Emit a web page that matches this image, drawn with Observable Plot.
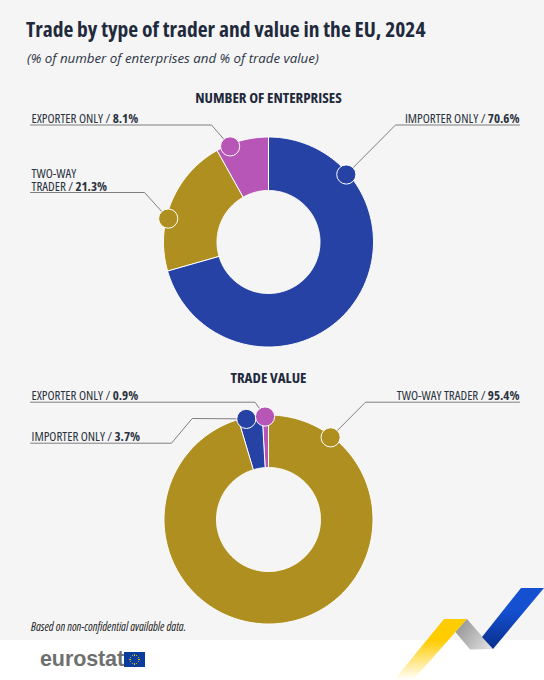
<!DOCTYPE html>
<html lang="en">
<head>
<meta charset="utf-8">
<script src="https://cdn.jsdelivr.net/npm/d3@7"></script>
<script src="https://cdn.jsdelivr.net/npm/@observablehq/plot@0.6"></script>
<style>
  html, body { margin: 0; padding: 0; background: #fff; }
  body { width: 544px; height: 680px; overflow: hidden; position: relative; font-family: "Open Sans", sans-serif; font-stretch: 75%; }
  #panel { position: absolute; left: 0; top: 0; width: 544px; height: 640px; background: #f5f5f5; }
  #head { height: 84px; position: relative; }
  #title { position: absolute; left: 26px; top: 14px; margin: 0; font-size: 21.5px; line-height: 30px; font-weight: 700; color: #1f2a3c; white-space: nowrap; }
  #subtitle { position: absolute; left: 27px; top: 48px; margin: 0; font-size: 13.3px; line-height: 20px; font-style: italic; font-stretch: 100%; color: #2b3445; white-space: nowrap; }
  #chart svg { display: block; }
  #chart text { font-family: "Open Sans", sans-serif; font-stretch: 75%; }
  #note { position: absolute; left: 31px; top: 619px; font-size: 11.7px; line-height: 14px; font-style: italic; color: #222; white-space: nowrap; }
  #logo { position: absolute; left: 40px; top: 646px; font-family: "Liberation Sans", sans-serif; font-stretch: normal; font-weight: 700; font-size: 21.5px; line-height: 26px; color: #6f6f6f; letter-spacing: -0.1px; }
  #flag { position: absolute; left: 124px; top: 652px; width: 21px; height: 15px; background: #0b3d9c; }
  #flag i { position: absolute; width: 1.3px; height: 1.3px; border-radius: 50%; background: #ffd200; }
  .rib { position: absolute; left: 380px; top: 580px; width: 164px; height: 100px; }
  #ribYellow { background: linear-gradient(to bottom, #ffcc00 60%, #ffffff 100%); clip-path: polygon(64px 39px, 87px 39px, 33px 100px, 14px 100px); }
  #ribGrey { background: linear-gradient(125deg, #9a9a9a 48%, #f0f0f0 72%); clip-path: polygon(87px 39px, 113px 69px, 90px 69.6px, 75.5px 52px); }
  #ribBlue { background: linear-gradient(to bottom, #1450d0 30%, #0a2f8f 68%); clip-path: polygon(141px 8px, 164px 8px, 113px 69px, 102px 57px); }
</style>
</head>
<body>
<div id="panel">
  <div id="head">
    <h1 id="title">Trade by type of trader and value in the EU, 2024</h1>
    <p id="subtitle">(% of number of enterprises and % of trade value)</p>
  </div>
  <div id="chart"></div>
  <div id="note">Based on non-confidential available data.</div>
</div>
<div class="rib" id="ribYellow"></div>
<div class="rib" id="ribGrey"></div>
<div class="rib" id="ribBlue"></div>
<div id="logo">eurostat</div>
<div id="flag"></div>
<script>
// Values
const traderTypes = ["Importer only", "Two-way trader", "Exporter only"];
const traderColors = ["#2742a5", "#ae8f1f", "#b756b7"];

const enterprisesTypes = ["Importer only", "Two-way trader", "Exporter only"];
const enterprisesValues = [70.6, 21.3, 8.1];
const enterprisesLabels = ["IMPORTER ONLY / 70.6%", "TWO-WAY\nTRADER / 21.3%", "EXPORTER ONLY / 8.1%"];

const tradeTypes = ["Two-way trader", "Importer only", "Exporter only"];
const tradeValues = [95.4, 3.7, 0.9];
const tradeLabels = ["TWO-WAY TRADER / 95.4%", "IMPORTER ONLY / 3.7%", "EXPORTER ONLY / 0.9%"];

// Layout only
const chartTop = 84, chartBottom = 624;
const donuts = [
  { key: "enterprises", title: "NUMBER OF ENTERPRISES", titleY: 102, types: enterprisesTypes, values: enterprisesValues, labels: enterprisesLabels,
    cx: 268, cy: 241.5, outer: 105, inner: 51.5,
    callouts: [
      { along: 0.193, labelX: 519, labelY: 122, anchor: "end", path: [[519, 124.5], [395, 124.5]] },
      { along: 0.378, labelX: 31, labelY: 190, anchor: "start", path: [[30, 192], [144, 192]] },
      { along: 0.25, labelX: 31, labelY: 122, anchor: "start", path: [[30, 124.5], [211, 124.5]] }
    ] },
  { key: "trade", title: "TRADE VALUE", titleY: 382, types: tradeTypes, values: tradeValues, labels: tradeLabels,
    cx: 268, cy: 519, outer: 104.5, inner: 52,
    callouts: [
      { along: 0.108, labelX: 519, labelY: 399, anchor: "end", path: [[519, 401.7], [365, 401.7]] },
      { along: 0.31, labelX: 31, labelY: 440.5, anchor: "start", path: [[30, 442.7], [171, 442.7], [191.7, 418]] },
      { along: 0.41, labelX: 31, labelY: 399, anchor: "start", path: [[30, 401.7], [254.5, 401.7]] }
    ] }
];
const dotRadius = 103;

const polar = (d, deg, r) => {
  const a = deg * Math.PI / 180;
  return [d.cx + r * Math.sin(a), d.cy - r * Math.cos(a)];
};

const slicePoints = [], dots = [], leaders = [], labels = [];
for (const d of donuts) {
  const total = d3.sum(d.values);
  let start = 0;
  d.values.forEach((v, i) => {
    const end = start + v / total * 360;
    const key = d.key + i;
    const steps = Math.max(2, Math.ceil(end - start));
    const arc = r => d3.range(steps + 1).map(s => polar(d, start + (end - start) * s / steps, r));
    for (const [x, y] of [...arc(d.outer), ...arc(d.inner).reverse()]) slicePoints.push({ x, y, key, type: d.types[i] });
    const c = d.callouts[i];
    const [dx, dy] = polar(d, start + (end - start) * c.along, dotRadius);
    dots.push({ x: dx, y: dy, type: d.types[i] });
    [...c.path, [dx, dy]].forEach(([x, y]) => leaders.push({ x, y, key }));
    labels.push({ x: c.labelX, y: c.labelY, text: d.labels[i], anchor: c.anchor });
    start = end;
  });
}

const labelText = anchor => Plot.text(labels.filter(l => l.anchor === anchor), {
  x: "x", y: "y", text: "text", textAnchor: anchor, lineAnchor: "bottom",
  fontSize: 13, fill: "#2b3240", lineHeight: 1
});

const plot = Plot.plot({
  width: 544, height: chartBottom - chartTop,
  marginTop: 0, marginRight: 0, marginBottom: 0, marginLeft: 0,
  x: { domain: [0, 544], range: [0, 544], axis: null },
  y: { domain: [chartTop, chartBottom], range: [0, chartBottom - chartTop], axis: null },
  color: { domain: traderTypes, range: traderColors },
  style: { background: "transparent", overflow: "visible" },
  marks: [
    Plot.line(slicePoints, { x: "x", y: "y", z: "key", fill: "type", stroke: "#ffffff", strokeWidth: 1, curve: "linear-closed" }),
    Plot.line(leaders, { x: "x", y: "y", z: "key", stroke: "#7f7f7f", strokeWidth: 1 }),
    Plot.dot(dots, { x: "x", y: "y", r: 9.6, fill: "type", stroke: "#ffffff", strokeWidth: 1 }),
    labelText("start"),
    labelText("end"),
    Plot.text(donuts, { x: "cx", y: "titleY", text: "title", lineAnchor: "bottom", fontSize: 15, fontWeight: 700, fill: "#1f2a3c" })
  ]
});

// Percentages are set in bold inside the label text
const walker = document.createTreeWalker(plot, NodeFilter.SHOW_TEXT);
const nodes = [];
while (walker.nextNode()) nodes.push(walker.currentNode);
for (const n of nodes) {
  const m = n.nodeValue.match(/^(.*\/ )([\d.]+%)$/);
  if (!m) continue;
  n.nodeValue = m[1];
  const t = document.createElementNS("http://www.w3.org/2000/svg", "tspan");
  t.setAttribute("font-weight", "700");
  t.textContent = m[2];
  n.parentNode.appendChild(t);
}
document.getElementById("chart").appendChild(plot);

// Ring of stars on the logo flag
const flag = document.getElementById("flag");
d3.range(12).forEach(i => {
  const a = i / 12 * 2 * Math.PI;
  const s = document.createElement("i");
  s.style.left = (10.5 + 4.6 * Math.sin(a) - 0.65) + "px";
  s.style.top = (7.5 - 4.6 * Math.cos(a) - 0.65) + "px";
  flag.appendChild(s);
});
</script>
</body>
</html>
